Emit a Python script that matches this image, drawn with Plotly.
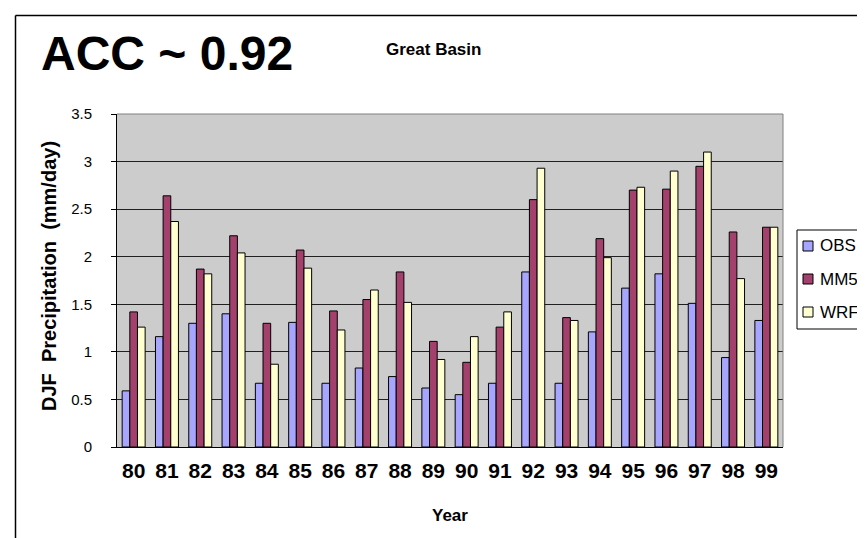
import plotly.graph_objects as go

years = ["80", "81", "82", "83", "84", "85", "86", "87", "88", "89",
         "90", "91", "92", "93", "94", "95", "96", "97", "98", "99"]
obs = [0.59, 1.16, 1.30, 1.40, 0.67, 1.31, 0.67, 0.83, 0.74, 0.62,
       0.55, 0.67, 1.84, 0.67, 1.21, 1.67, 1.82, 1.51, 0.94, 1.33]
mm5 = [1.42, 2.64, 1.87, 2.22, 1.30, 2.07, 1.43, 1.55, 1.84, 1.11,
       0.89, 1.26, 2.60, 1.36, 2.19, 2.70, 2.71, 2.95, 2.26, 2.31]
wrf = [1.26, 2.37, 1.82, 2.04, 0.87, 1.88, 1.23, 1.65, 1.52, 0.92,
       1.16, 1.42, 2.93, 1.33, 1.99, 2.73, 2.90, 3.10, 1.77, 2.31]
series_names = ["OBS", "MM5", "WRF"]
series_colors = ["#A6A6FF", "#A3406C", "#FFFFD0"]
yticks = [0, 0.5, 1, 1.5, 2, 2.5, 3, 3.5]
ytick_text = ["0", "0.5", "1", "1.5", "2", "2.5", "3", "3.5"]

W, H = 865, 538
L, R, T, B = 109, 90, 106, 99
PW, PH = W - L - R, H - T - B


def px(x):
    return (x - L) / PW


def py(y):
    return (H - B - y) / PH


FONT = "Liberation Sans, Arial, sans-serif"
outline = dict(color="black", width=1)

fig = go.Figure()
for name, vals, col in zip(series_names, [obs, mm5, wrf], series_colors):
    fig.add_trace(go.Bar(name=name, x=years, y=vals,
                         marker=dict(color=col, line=outline)))

NB = "\u00a0"
shapes = [
    # plot-area top and right edges (gray)
    dict(type="line", xref="paper", yref="paper", x0=0, x1=1, y0=1, y1=1,
         line=dict(color="#808080", width=1)),
    dict(type="line", xref="paper", yref="paper", x0=1, x1=1, y0=0, y1=1,
         line=dict(color="#808080", width=1)),
    # outer chart border: top and left
    dict(type="line", xref="paper", yref="paper", x0=px(7.5), x1=px(W + 5), y0=py(7.5), y1=py(7.5),
         line=dict(color="black", width=1.5)),
    dict(type="line", xref="paper", yref="paper", x0=px(7.5), x1=px(7.5), y0=py(7.5), y1=py(H + 5),
         line=dict(color="black", width=1.5)),
    # legend box
    dict(type="rect", xref="paper", yref="paper", x0=px(789), x1=px(W + 10), y0=py(222), y1=py(321),
         line=dict(color="black", width=1), fillcolor="white", layer="above"),
]
annotations = [
    dict(text="<b>ACC ~ 0.92</b>", xref="paper", yref="paper", x=px(31), y=py(45),
         xanchor="left", yanchor="middle", showarrow=False,
         font=dict(size=48, family=FONT)),
    dict(text="<b>Great Basin</b>", xref="paper", yref="paper", x=px(425), y=py(41),
         xanchor="center", yanchor="middle", showarrow=False,
         font=dict(size=17, family=FONT)),
    dict(text="<b>Year</b>", xref="paper", yref="paper", x=0.5, y=py(507),
         xanchor="center", yanchor="middle", showarrow=False,
         font=dict(size=17, family=FONT)),
    dict(text="<b>DJF" + NB * 2 + "Precipitation" + NB * 2 + "(mm/day)</b>", xref="paper", yref="paper",
         x=px(41), y=py(268), textangle=-90,
         xanchor="center", yanchor="middle", showarrow=False,
         font=dict(size=20, family=FONT)),
]
# legend entries
row_y = [238, 271, 304]
for name, col, ry in zip(series_names, series_colors, row_y):
    shapes.append(dict(type="rect", xref="paper", yref="paper",
                       x0=px(795), x1=px(805), y0=py(ry - 5), y1=py(ry + 5),
                       line=dict(color="black", width=1), fillcolor=col, layer="above"))
    annotations.append(dict(text=name, xref="paper", yref="paper", x=px(810), y=py(ry),
                            xanchor="left", yanchor="middle", showarrow=False,
                            font=dict(size=17, family=FONT)))

fig.update_layout(
    width=W, height=H,
    margin=dict(l=L, r=R, t=T, b=B, pad=0),
    paper_bgcolor="white",
    plot_bgcolor="#CCCCCC",
    barmode="group",
    bargap=0.31,
    bargroupgap=0,
    font=dict(family=FONT, color="black"),
    showlegend=False,
    xaxis=dict(
        type="category", showgrid=False, ticks="",
        tickfont=dict(size=21, family=FONT, weight="bold"),
        ticklabelstandoff=5,
        showline=True, linecolor="black", linewidth=1,
    ),
    yaxis=dict(
        range=[0, 3.5], tickvals=yticks, ticktext=ytick_text,
        showgrid=True, gridcolor="#202020", gridwidth=1,
        ticks="outside", ticklen=5, tickcolor="black",
        tickfont=dict(size=15, family=FONT),
        ticklabelstandoff=16,
        showline=True, linecolor="black", linewidth=1,
        zeroline=False,
    ),
    shapes=shapes,
    annotations=annotations,
)

fig.write_html("out.html")
